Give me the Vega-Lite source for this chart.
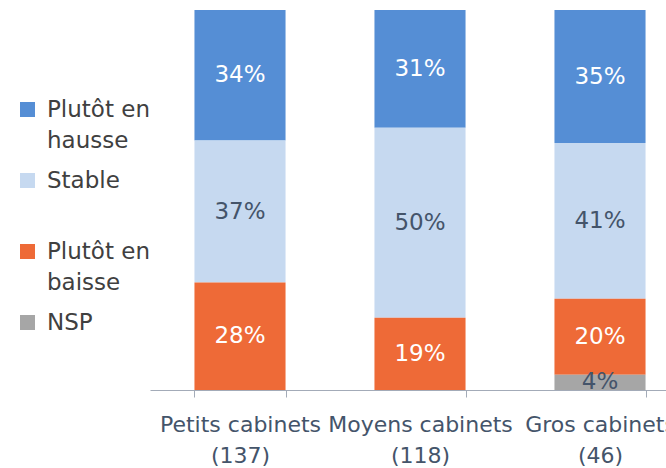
{
  "$schema": "https://vega.github.io/schema/vega-lite/v6.json",
  "width": 540,
  "height": 380,
  "autosize": {"type": "none"},
  "padding": {"left": 150, "top": 10, "right": 0, "bottom": 78},
  "background": "white",
  "config": {
    "view": {"stroke": null},
    "font": "DejaVu Sans",
    "style": {"guide-label": {"lineHeight": 31}}
  },
  "data": {
    "values": [
      {"cat": "Petits cabinets (137)", "serie": "Plutôt en hausse", "p": 0.34},
      {"cat": "Petits cabinets (137)", "serie": "Stable", "p": 0.37},
      {"cat": "Petits cabinets (137)", "serie": "Plutôt en baisse", "p": 0.28},
      {"cat": "Moyens cabinets (118)", "serie": "Plutôt en hausse", "p": 0.31},
      {"cat": "Moyens cabinets (118)", "serie": "Stable", "p": 0.50},
      {"cat": "Moyens cabinets (118)", "serie": "Plutôt en baisse", "p": 0.19},
      {"cat": "Gros cabinets (46)", "serie": "Plutôt en hausse", "p": 0.35},
      {"cat": "Gros cabinets (46)", "serie": "Stable", "p": 0.41},
      {"cat": "Gros cabinets (46)", "serie": "Plutôt en baisse", "p": 0.20},
      {"cat": "Gros cabinets (46)", "serie": "NSP", "p": 0.04}
    ]
  },
  "transform": [
    {"calculate": "indexof(['NSP','Plutôt en baisse','Stable','Plutôt en hausse'], datum.serie)", "as": "rang"}
  ],
  "encoding": {
    "x": {
      "field": "cat",
      "type": "nominal",
      "sort": null,
      "scale": {"paddingInner": 0.494, "paddingOuter": 0.247},
      "axis": {
        "title": null,
        "labelAngle": 0,
        "tickBand": "extent",
        "domainColor": "#A3ABB8",
        "tickColor": "#A3ABB8",
        "tickSize": 7,
        "labelFont": "DejaVu Sans",
        "labelFontSize": 22,
        "labelColor": "#44546A",
        "labelPadding": 17,
        "labelLineHeight": 31,
        "labelOverlap": false,
        "labelLimit": 0,
        "labelExpr": "[slice(datum.label, 0, indexof(datum.label, ' (')), slice(datum.label, indexof(datum.label, ' (') + 1)]"
      }
    },
    "y": {
      "field": "p",
      "type": "quantitative",
      "stack": "normalize",
      "scale": {"domain": [0, 1]},
      "axis": null
    },
    "order": {"field": "rang", "type": "quantitative"}
  },
  "layer": [
    {
      "mark": {"type": "bar"},
      "encoding": {
        "color": {
          "field": "serie",
          "type": "nominal",
          "scale": {
            "domain": ["Plutôt en hausse", "Stable", "Plutôt en baisse", "NSP"],
            "range": ["#558ED5", "#C6D9F0", "#EE6A37", "#A6A6A6"]
          },
          "legend": {
            "title": null,
            "orient": "none",
            "legendX": -134,
            "legendY": 88,
            "symbolType": "square",
            "symbolSize": 225,
            "symbolStrokeWidth": 0,
            "labelFont": "DejaVu Sans",
            "labelFontSize": 23,
            "labelColor": "#404040",
            "labelOffset": 8,
            "labelLimit": 0,
            "gridAlign": "all",
            "rowPadding": 16,
            "labelExpr": "datum.label == 'Plutôt en hausse' ? ['Plutôt en', 'hausse'] : datum.label == 'Plutôt en baisse' ? ['Plutôt en', 'baisse'] : datum.label"
          }
        }
      }
    },
    {
      "mark": {"type": "text", "fontSize": 23, "font": "DejaVu Sans"},
      "encoding": {
        "y": {"field": "p", "type": "quantitative", "stack": "normalize", "bandPosition": 0.5},
        "detail": {"field": "serie"},
        "text": {"field": "p", "type": "quantitative", "format": ".0%"},
        "color": {
          "condition": {"test": "datum.serie == 'Stable' || datum.serie == 'NSP'", "value": "#44546A"},
          "value": "white"
        }
      }
    }
  ]
}
